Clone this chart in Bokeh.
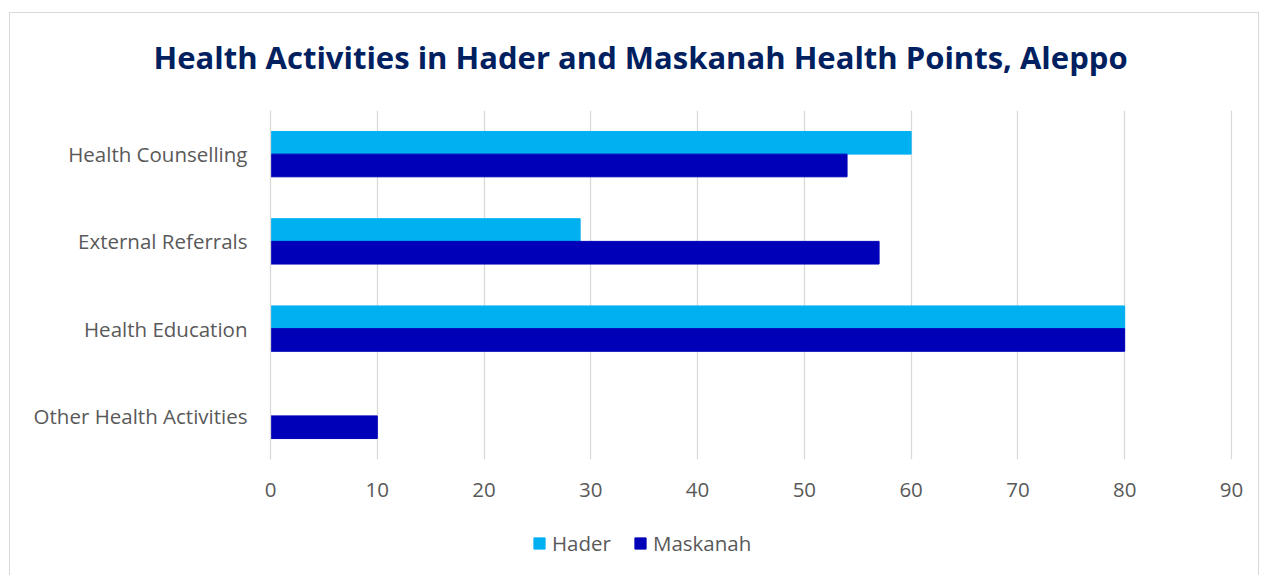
from bokeh.plotting import figure
from bokeh.layouts import column
from bokeh.models import FactorRange, Range1d, Legend, LegendItem, Title, ColumnDataSource
from bokeh.transform import dodge
from bokeh.embed import file_html
from bokeh.resources import INLINE

categories = ["Health Counselling", "External Referrals", "Health Education", "Other Health Activities"]
hader = [60, 29, 80, 0]
maskanah = [54, 57, 80, 10]
x_ticks = [0, 10, 20, 30, 40, 50, 60, 70, 80, 90]
title_text = "Health Activities in Hader and Maskanah Health Points, Aleppo"

FONT = "Open Sans"
C_HADER = "#00B0F0"
C_MASK = "#0000B8"

src = ColumnDataSource(dict(cat=categories, hader=hader, maskanah=maskanah))
y_range = FactorRange(*reversed(categories))

p = figure(width=1248, height=507, output_backend="svg", toolbar_location=None,
           y_range=y_range, x_range=Range1d(0, 90.1), title=None,
           min_border_left=260, min_border_right=26, min_border_top=97, min_border_bottom=61)

p.hbar(y=dodge("cat", 0.13, range=y_range), right="hader", left=0, height=0.26,
       source=src, color=C_HADER)
p.hbar(y=dodge("cat", -0.13, range=y_range), right="maskanah", left=0, height=0.26,
       source=src, color=C_MASK)

p.outline_line_color = None
p.ygrid.grid_line_color = None
p.xgrid.grid_line_color = "#d9d9d9"
p.xgrid.grid_line_width = 1.3
p.xaxis.ticker = x_ticks
p.xaxis.axis_line_color = None
p.xaxis.major_tick_line_color = None
p.xaxis.minor_tick_line_color = None
p.xaxis.major_label_standoff = 17
p.yaxis.axis_line_color = "#d9d9d9"
p.yaxis.axis_line_width = 1.3
p.yaxis.major_tick_line_color = None
p.yaxis.minor_tick_line_color = None
p.yaxis.major_label_standoff = 17
for ax in (p.xaxis, p.yaxis):
    ax.major_label_text_font = FONT
    ax.major_label_text_font_size = "20.5px"
    ax.major_label_text_color = "#595959"

# spacer between title and plot area (closest to the frame), then the title
p.add_layout(Title(text=" ", text_font_size="10px", standoff=0), "above")
p.add_layout(Title(text=title_text, align="left", offset=-117, standoff=40,
                   text_font=FONT, text_font_size="31px", text_font_style="bold",
                   text_color="#002060"), "above")

# legend strip below the chart (its frame is aligned with the chart's frame)
lg = figure(width=1248, height=60, output_backend="svg", toolbar_location=None,
            x_range=Range1d(0, 90.1), y_range=FactorRange(*reversed(categories)),
            min_border_left=260, min_border_right=26, min_border_top=0, min_border_bottom=0)
lg.axis.visible = False
lg.grid.visible = False
lg.outline_line_color = None
e1 = lg.hbar(y="cat", right="hader", left=0, height=0.26, source=src, color=C_HADER, visible=False)
e2 = lg.hbar(y="cat", right="maskanah", left=0, height=0.26, source=src, color=C_MASK, visible=False)
legend = Legend(items=[LegendItem(label="Hader", renderers=[e1]),
                       LegendItem(label="Maskanah", renderers=[e2])],
                orientation="horizontal", location=(262, 23),
                glyph_width=14, glyph_height=14, label_text_font=FONT,
                label_text_font_size="20.5px", label_text_color="#595959",
                border_line_color=None, background_fill_alpha=0,
                inactive_fill_alpha=0,
                spacing=22, label_standoff=6, padding=4, margin=0)
lg.add_layout(legend, "center")

layout = column(p, lg, spacing=0)
layout.margin = (12, 0, 0, 9)
layout.styles = {"border": "1px solid #d9d9d9"}

open("out.html", "w").write(file_html(layout, INLINE))
